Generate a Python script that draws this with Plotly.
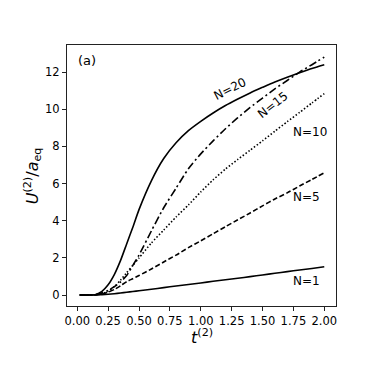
import plotly.graph_objects as go

t = [0.02, 0.1, 0.15, 0.2, 0.25, 0.3, 0.35, 0.4, 0.45, 0.5, 0.6, 0.7, 0.8, 0.9,
     1.0, 1.1, 1.2, 1.3, 1.4, 1.5, 1.6, 1.7, 1.8, 1.9, 2.0]

u_n1 = [0, 0, 0.005, 0.02, 0.04, 0.07, 0.11, 0.15, 0.19, 0.23, 0.31, 0.4, 0.49, 0.57,
        0.65, 0.74, 0.82, 0.9, 0.99, 1.08, 1.17, 1.26, 1.35, 1.43, 1.52]
u_n5 = [0, 0, 0.01, 0.05, 0.15, 0.3, 0.5, 0.72, 0.88, 1.05, 1.4, 1.78, 2.15, 2.55,
        2.92, 3.3, 3.68, 4.05, 4.42, 4.8, 5.17, 5.5, 5.87, 6.22, 6.58]
u_n10 = [0, 0, 0.02, 0.08, 0.2, 0.45, 0.8, 1.2, 1.6, 2.0, 2.8, 3.5, 4.2, 4.85,
         5.55, 6.2, 6.78, 7.3, 7.8, 8.3, 8.82, 9.33, 9.83, 10.34, 10.84]
u_n15 = [0, 0, 0.02, 0.12, 0.25, 0.45, 0.7, 1.05, 1.6, 2.15, 3.45, 4.7, 5.75, 6.8,
         7.6, 8.3, 8.95, 9.55, 10.1, 10.6, 11.1, 11.55, 12.0, 12.4, 12.81]
u_n20 = [0, 0, 0.03, 0.2, 0.55, 1.1, 1.85, 2.75, 3.65, 4.6, 6.15, 7.35, 8.2, 8.85,
         9.35, 9.8, 10.2, 10.55, 10.88, 11.18, 11.47, 11.73, 11.97, 12.2, 12.4]

series = [
    ("N=1", u_n1, "solid"),
    ("N=5", u_n5, "5px,2.5px"),
    ("N=10", u_n10, "1.5px,2px"),
    ("N=15", u_n15, "8px,3px,2px,3px"),
    ("N=20", u_n20, "solid"),
]

labels = [
    ("N=20", 1.236, 11.08, -27),
    ("N=15", 1.585, 10.21, -38),
    ("N=10", 1.884, 8.76, 0),
    ("N=5", 1.86, 5.27, 0),
    ("N=1", 1.86, 0.75, 0),
]

x_ticks = [0.0, 0.25, 0.5, 0.75, 1.0, 1.25, 1.5, 1.75, 2.0]
x_ticktext = ["0.00", "0.25", "0.50", "0.75", "1.00", "1.25", "1.50", "1.75", "2.00"]
y_ticks = [0, 2, 4, 6, 8, 10, 12]

FONT = "DejaVu Sans"

fig = go.Figure()
for name, u, dash in series:
    fig.add_trace(go.Scatter(
        x=t, y=u, mode="lines", name=name,
        line=dict(color="black", width=1.6, dash=dash, shape="spline", smoothing=0.6),
        showlegend=False, hoverinfo="skip",
    ))

annotations = []
for text, xx, yy, ang in labels:
    annotations.append(dict(
        x=xx, y=yy, xref="x", yref="y", text=text, showarrow=False,
        textangle=ang, font=dict(family=FONT, size=12, color="black"),
    ))
annotations.append(dict(
    x=0.079, y=12.63, xref="x", yref="y", text="(a)", showarrow=False,
    font=dict(family=FONT, size=13, color="black"),
))
annotations.append(dict(
    x=0.5, y=-0.118, xref="paper", yref="paper",
    text="<i>t</i><sup>(2)</sup>", showarrow=False, yanchor="middle",
    font=dict(family=FONT, size=16, color="black"),
))
annotations.append(dict(
    x=-0.127, y=0.5, xref="paper", yref="paper",
    text="<i>U</i><sup>(2)</sup>/<i>a</i><sub>eq</sub>", showarrow=False,
    textangle=-90, xanchor="center", yanchor="middle",
    font=dict(family=FONT, size=16, color="black"),
))

axis_common = dict(
    showgrid=False, zeroline=False, showline=True, linecolor="#222", linewidth=1,
    mirror=True, ticks="outside", ticklen=4, tickwidth=1, tickcolor="#222",
    tickfont=dict(family=FONT, size=11.5, color="black"),
)

fig.update_layout(
    width=366, height=366,
    margin=dict(l=59, r=38, t=37, b=68),
    plot_bgcolor="white", paper_bgcolor="white",
    xaxis=dict(range=[-0.083, 2.095], tickvals=x_ticks, ticktext=x_ticktext, **axis_common),
    yaxis=dict(range=[-0.59, 13.46], tickvals=y_ticks, **axis_common),
    annotations=annotations,
)

fig.write_html("out.html")
